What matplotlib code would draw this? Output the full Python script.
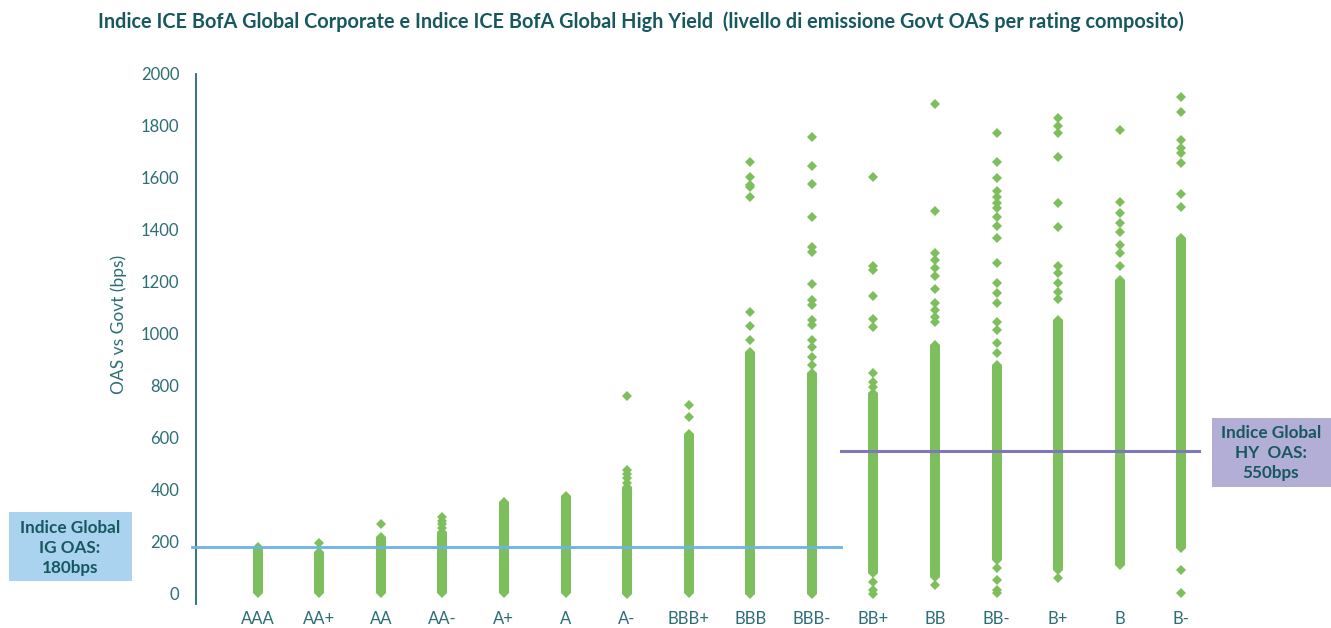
import matplotlib
matplotlib.use("Agg")
import matplotlib.pyplot as plt
from matplotlib.patches import Rectangle

plt.rcParams['font.family'] = ['Lato', 'DejaVu Sans']

# rating compositi
ratings = ['AAA', 'AA+', 'AA', 'AA-', 'A+', 'A', 'A-', 'BBB+', 'BBB', 'BBB-',
           'BB+', 'BB', 'BB-', 'B+', 'B', 'B-']

# tratto continuo (emissioni fitte) per rating: minimo e massimo in bps
dense_lo = [5, 5, 5, 5, 5, 5, 0, 5, 0, 0, 80, 67, 131, 92, 112, 176]
dense_hi = [180, 160, 220, 240, 354, 377, 412, 615, 932, 849, 773, 958, 880, 1054, 1208, 1368]

# emissioni isolate (bps)
pts_AAA = []
pts_AAp = [195]
pts_AA = [270]
pts_AAm = [296, 282, 268, 255]
pts_Ap = []
pts_A = []
pts_Am = [760, 477, 462, 445, 428]
pts_BBBp = [727, 680]
pts_BBB = [1663, 1603, 1573, 1565, 1526, 1086, 1032, 977]
pts_BBBm = [1756, 1646, 1577, 1449, 1336, 1317, 1192, 1131, 1112, 1054, 1035, 977, 951, 913, 880]
pts_BBp = [1603, 1260, 1245, 1147, 1057, 1028, 851, 815, 796, 47, 15, 0]
pts_BB = [1883, 1473, 1310, 1285, 1253, 1223, 1173, 1118, 1092, 1067, 1047, 35]
pts_BBm = [1774, 1663, 1599, 1551, 1526, 1503, 1483, 1449, 1415, 1368, 1272, 1195, 1157,
           1118, 1047, 1015, 964, 926, 99, 54, 15, 4]
pts_Bp = [1830, 1800, 1772, 1682, 1503, 1413, 1262, 1236, 1195, 1163, 1133, 60]
pts_B = [1785, 1509, 1464, 1426, 1393, 1342, 1310, 1263]
pts_Bm = [1913, 1855, 1746, 1714, 1695, 1656, 1538, 1490, 92, 3]

points = [pts_AAA, pts_AAp, pts_AA, pts_AAm, pts_Ap, pts_A, pts_Am, pts_BBBp, pts_BBB,
          pts_BBBm, pts_BBp, pts_BB, pts_BBm, pts_Bp, pts_B, pts_Bm]

ig_oas = 180
hy_oas = 550

green = '#7dbe5d'
teal = '#17585f'
tick_col = '#2b6e76'

fig = plt.figure(figsize=(13.31, 6.28), dpi=100)
ax = fig.add_axes([196 / 1331, (628 - 604.4) / 628, 1047 / 1331, 530.4 / 628])

x = list(range(len(ratings)))

# colonne fitte
ax.vlines(x, dense_lo, dense_hi, color=green, linewidth=7.2, zorder=2)
ax.plot(x, dense_lo, 'D', color=green, markersize=5.3, markeredgewidth=0, zorder=2)
ax.plot(x, dense_hi, 'D', color=green, markersize=5.3, markeredgewidth=0, zorder=2)

# punti isolati
for i, vals in enumerate(points):
    if vals:
        ax.plot([i] * len(vals), vals, 'D', color=green, markersize=5.3,
                markeredgewidth=0, zorder=2)

# livelli indice
ax.plot([-1.06, 9.47], [ig_oas, ig_oas], color='#6db3e3', linewidth=2.0, zorder=3,
        clip_on=False)
ax.plot([9.47, 15.28], [hy_oas, hy_oas], color='#7e78b9', linewidth=2.2, zorder=3,
        clip_on=False)

ax.set_xlim(-1, 16)
ax.set_ylim(-40, 2000)
ax.set_yticks(range(0, 2001, 200))
ax.set_xticks(x)
ax.set_xticklabels(ratings)
ax.tick_params(axis='both', length=0, labelsize=12, colors=tick_col)
ax.tick_params(axis='x', pad=5)
ax.tick_params(axis='y', pad=12)

for s in ['top', 'right', 'bottom']:
    ax.spines[s].set_visible(False)
ax.spines['left'].set_color('#1f6b73')
ax.spines['left'].set_linewidth(1.3)

fig.text(641 / 1331, 1 - 22 / 628,
         'Indice ICE BofA Global Corporate e Indice ICE BofA Global High Yield  '
         '(livello di emissione Govt OAS per rating composito)',
         ha='center', va='center', fontsize=14.3, fontweight='bold', color=teal)

fig.text(119 / 1331, 1 - 324 / 628, 'OAS vs Govt (bps)', rotation=90,
         ha='center', va='center', fontsize=12.5, color=tick_col)

# box etichette
fig.patches.append(Rectangle((9 / 1331, 1 - 581 / 628), 123 / 1331, 69 / 628,
                             transform=fig.transFigure, facecolor='#a9d3ef',
                             edgecolor='none', zorder=1))
fig.text(70 / 1331, 1 - 548 / 628, 'Indice Global\nIG OAS:\n180bps', ha='center',
         va='center', fontsize=12.3, fontweight='bold', color=teal, linespacing=1.3)

fig.patches.append(Rectangle((1212 / 1331, 1 - 487 / 628), 119 / 1331, 69 / 628,
                             transform=fig.transFigure, facecolor='#b2aed5',
                             edgecolor='none', zorder=1))
fig.text(1271 / 1331, 1 - 453 / 628, 'Indice Global\nHY  OAS:\n550bps', ha='center',
         va='center', fontsize=12.3, fontweight='bold', color=teal, linespacing=1.3)

fig.savefig('out.png', dpi=100)
